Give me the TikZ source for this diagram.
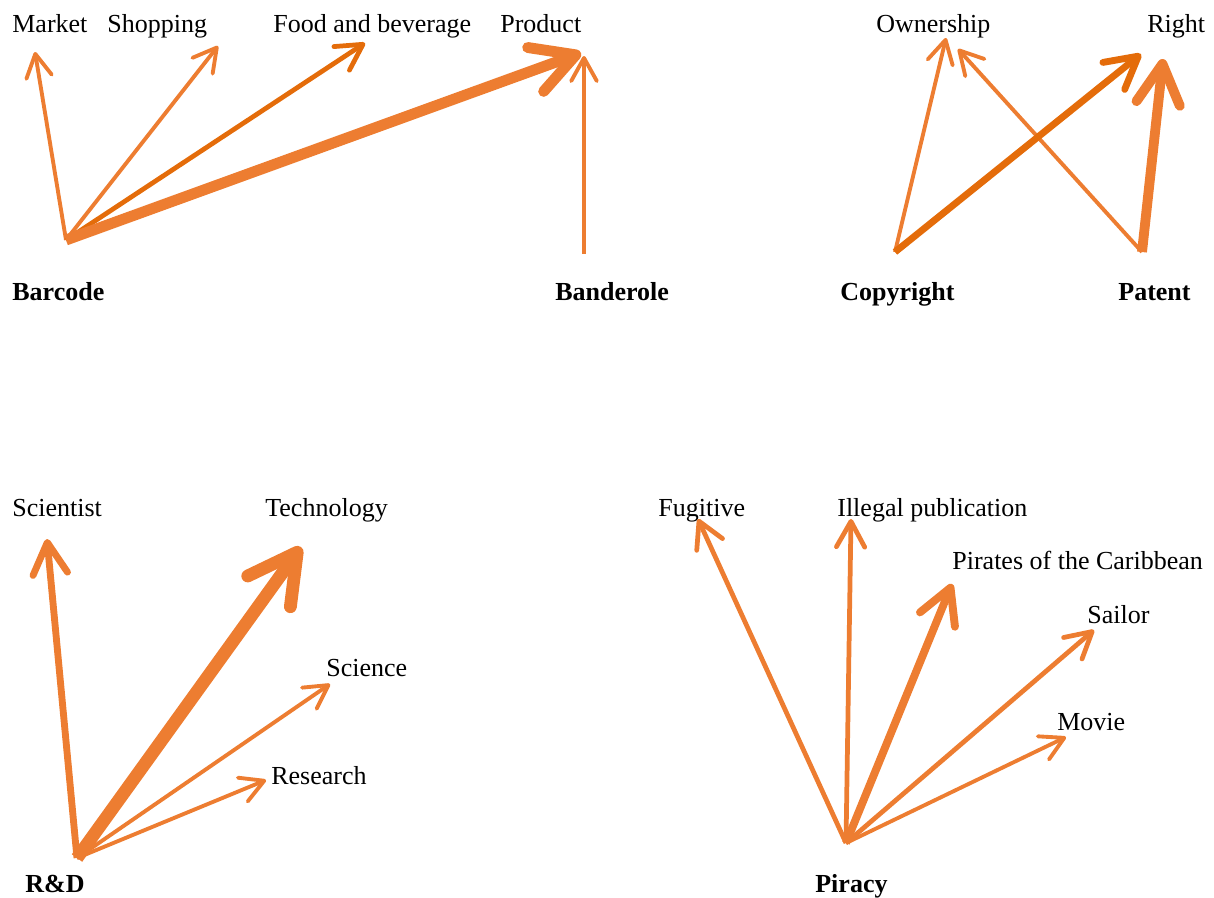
\documentclass[tikz,border=0pt]{standalone}
\usepackage{fontspec}
\setmainfont{Liberation Serif}
\usepackage{tikz}
\usetikzlibrary{arrows.meta}
\usepackage{xcolor}
\definecolor{tieorange}{HTML}{ED7D31}
\definecolor{tiedark}{HTML}{E46C0A}
\tikzset{
  term/.style={font=\fontsize{14.8}{17}\selectfont,inner sep=0pt,anchor=base west,text=black},
  root/.style={term,font=\fontsize{14.8}{17}\selectfont\bfseries},
  tie/.style={draw=tieorange,line cap=butt,line join=round,
    -{Straight Barb[round,length=7pt 2.8,width=8pt 3]}},
  dark/.style={draw=tiedark},
  wa/.style={line width=2.2pt},
  wb/.style={line width=2.7pt},
  wc/.style={line width=3.9pt},
  wd/.style={line width=4.5pt},
  we/.style={line width=5.6pt},
  wf/.style={line width=6.2pt},
  wg/.style={line width=7.3pt}
}

\begin{document}
\begin{tikzpicture}[x=0.02cm,y=-0.02cm]
        \useasboundingbox (0,0) rectangle (1214,897);
        \node[term] (market) at (12,32) {Market};
        \node[term] (shopping) at (107,32) {Shopping};
        \node[term] (food) at (273,32) {Food and beverage};
        \node[term] (product) at (500,32) {Product};
        \node[root] (barcode) at (12,300) {Barcode};
        \node[root] (banderole) at (555,300) {Banderole};
        \coordinate (barcode-root) at (66,240);
        \coordinate (banderole-root) at (584,254);
        \coordinate (market-tip) at (35,52);
        \coordinate (shopping-tip) at (218,46);
        \coordinate (food-tip) at (365,43);
        \coordinate (product-tip) at (581,53);
        \coordinate (product-tip2) at (584,56);
        \draw[tie,wa] (barcode-root) -- (market-tip);
        \draw[tie,wa] (barcode-root) -- (shopping-tip);
        \draw[tie,dark,wb] (barcode-root) -- (food-tip);
        \draw[tie,wf] (barcode-root) -- (product-tip);
        \draw[tie,wa] (banderole-root) -- (product-tip2);

        \node[term] (ownership) at (876,32) {Ownership};
        \node[term] (right) at (1147,32) {Right};
        \node[root] (copyright) at (840,300) {Copyright};
        \node[root] (patent) at (1118,300) {Patent};
        \coordinate (copyright-root) at (895,252);
        \coordinate (patent-root) at (1142,252);
        \coordinate (ownership-tip) at (946,38);
        \coordinate (ownership-tip2) at (958,49);
        \coordinate (right-tip) at (1141,54);
        \coordinate (right-tip2) at (1163,59);
        \draw[tie,wa] (copyright-root) -- (ownership-tip);
        \draw[tie,wa] (patent-root) -- (ownership-tip2);
        \draw[tie,dark,wc] (copyright-root) -- (right-tip);
        \draw[tie,we] (patent-root) -- (right-tip2);

        \node[term] (scientist) at (12,516) {Scientist};
        \node[term] (technology) at (265,516) {Technology};
        \node[term] (science) at (326,676) {Science};
        \node[term] (research) at (271,784) {Research};
        \node[root] (rd) at (25,892) {R\&D};
        \coordinate (rd-root) at (77,858);
        \coordinate (scientist-tip) at (47,539);
        \coordinate (technology-tip) at (301,547);
        \coordinate (science-tip) at (330,684);
        \coordinate (research-tip) at (266,780);
        \draw[tie,wc] (rd-root) -- (scientist-tip);
        \draw[tie,wg] (rd-root) -- (technology-tip);
        \draw[tie,wa] (rd-root) -- (science-tip);
        \draw[tie,wa] (rd-root) -- (research-tip);

        \node[term] (fugitive) at (658,516) {Fugitive};
        \node[term] (illegal) at (837,516) {Illegal publication};
        \node[term] (pirates) at (952,569) {Pirates of the Caribbean};
        \node[term] (sailor) at (1087,623) {Sailor};
        \node[term] (movie) at (1057,730) {Movie};
        \node[root] (piracy) at (815,892) {Piracy};
        \coordinate (piracy-root) at (846,843);
        \coordinate (fugitive-tip) at (698,519);
        \coordinate (illegal-tip) at (851,519);
        \coordinate (pirates-tip) at (952,584);
        \coordinate (sailor-tip) at (1094,630);
        \coordinate (movie-tip) at (1066,737);
        \draw[tie,wb] (piracy-root) -- (fugitive-tip);
        \draw[tie,wb] (piracy-root) -- (illegal-tip);
        \draw[tie,wd] (piracy-root) -- (pirates-tip);
        \draw[tie,wb] (piracy-root) -- (sailor-tip);
        \draw[tie,wa] (piracy-root) -- (movie-tip);
      \end{tikzpicture}
\end{document}
